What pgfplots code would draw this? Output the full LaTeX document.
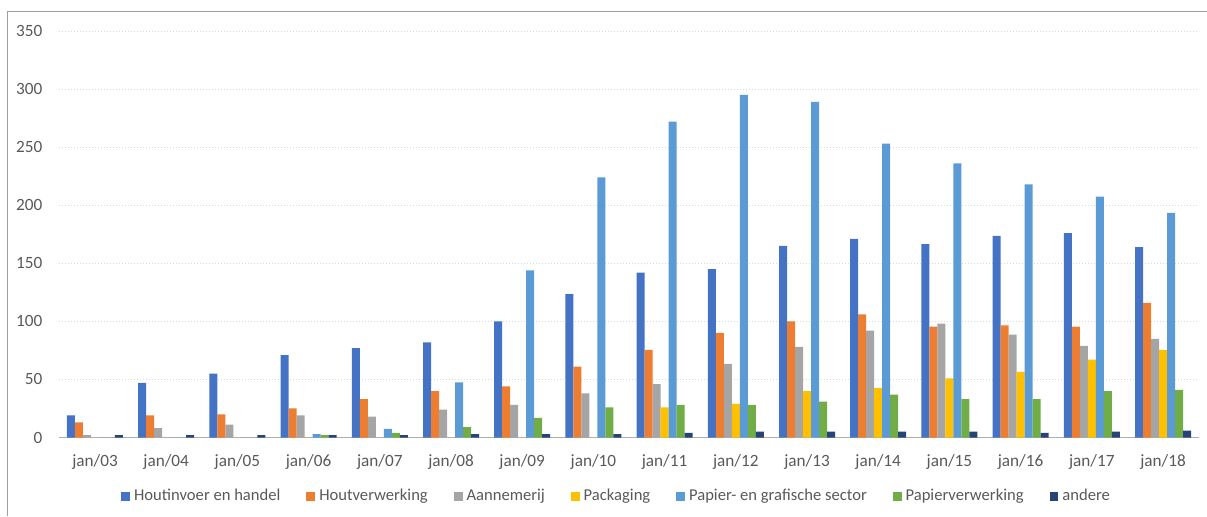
\documentclass[border=0pt]{standalone}
\usepackage{pgfplots}
\usepackage{pgfplotstable}
\pgfplotsset{compat=1.18}
\usepackage{fontspec}
\setmainfont{Carlito}

\definecolor{cA}{HTML}{4472C4}
\definecolor{cB}{HTML}{ED7D31}
\definecolor{cC}{HTML}{A5A5A5}
\definecolor{cD}{HTML}{FFC000}
\definecolor{cE}{HTML}{5B9BD5}
\definecolor{cF}{HTML}{70AD47}
\definecolor{cG}{HTML}{264478}
\definecolor{txt}{HTML}{595959}
\definecolor{grd}{HTML}{D9D9D9}

% columns: Houtinvoer, Houtverwerking, Aannemerij, Packaging, Papier/grafisch, Papierverwerking, andere
\pgfplotstableread{
x  a      b     c     d     e      f   g
0  19     13    2     0     0      0   2
1  47     19    8     0     0      0   2
2  55     20    11    0     0      0   2
3  71     25    19    0     3      2   2
4  77     33    18    0     7.5    4   2
5  82     40    24    0     47.5   9   3
6  100    44    28    0     144    17  3
7  123.5  61    38    0     224    26  3
8  142    75.5  46    26    272    28  4
9  145    90    63.5  29    295    28  5
10 165    100   78    40    289    31  5
11 171    106   92    42.5  253    37  5
12 166.5  95.5  98    51    236    33  5
13 173.5  96.5  88.5  56.5  218    33  4
14 176    95.5  79    67    207.5  40  5
15 164    116   85    75.5  193.5  41  6
}\data

\begin{document}
\begin{tikzpicture}
\path[use as bounding box] (0,0) rectangle (603.5pt,258pt);
\draw[gray!75, line width=0.6pt] (3.65pt,0) -- (3.65pt,252.35pt) -- (603.5pt,252.35pt);
\begin{axis}[
  at={(29.7pt,39.25pt)}, anchor=south west,
  scale only axis,
  width=569.6pt, height=203.25pt,
  ybar=0pt, bar width=4pt,
  xmin=-0.5, xmax=15.5,
  ymin=0, ymax=350,
  xtick=data,
  xticklabels={jan/03,jan/04,jan/05,jan/06,jan/07,jan/08,jan/09,jan/10,jan/11,jan/12,jan/13,jan/14,jan/15,jan/16,jan/17,jan/18},
  ytick={0,50,...,350},
  ymajorgrids,
  grid style={grd, line width=0.5pt, densely dotted},
  major tick length=0pt,
  axis line style={draw=none},
  extra y ticks={0},
  extra y tick labels={},
  extra y tick style={grid style={grd!80!black, solid, line width=0.6pt}},
  tick label style={font=\fontsize{8.6}{9}\selectfont, text=txt},
  /pgf/number format/assume math mode=true,
  yticklabel style={xshift=-5pt},
  xticklabel style={yshift=-5pt},
  legend columns=-1,
  legend style={draw=none, at={(0.490,-0.145)}, anchor=center, fill=none,
    font=\fontsize{8.3}{9}\selectfont, text=txt,
    /tikz/every even column/.append style={column sep=11pt}},
  legend image code/.code={\fill[#1] (0pt,-2.2pt) rectangle (4.4pt,2.2pt);},
  every axis plot/.append style={draw=none},
]
\addplot[fill=cA] table[x=x,y=a]{\data};
\addplot[fill=cB] table[x=x,y=b]{\data};
\addplot[fill=cC] table[x=x,y=c]{\data};
\addplot[fill=cD] table[x=x,y=d]{\data};
\addplot[fill=cE] table[x=x,y=e]{\data};
\addplot[fill=cF] table[x=x,y=f]{\data};
\addplot[fill=cG] table[x=x,y=g]{\data};
\legend{Houtinvoer en handel,Houtverwerking,Aannemerij,Packaging,Papier- en grafische sector,Papierverwerking,andere}
\end{axis}
\end{tikzpicture}
\end{document}
